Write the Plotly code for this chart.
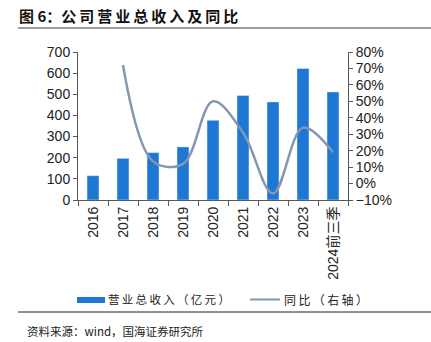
import plotly.graph_objects as go

categories = ["2016", "2017", "2018", "2019", "2020", "2021", "2022", "2023", "2024前三季"]
revenue = [115, 197, 224, 251, 377, 494, 464, 622, 511]
growth = [None, 72, 13.5, 12, 50, 31, -6, 34, 19]

W, H = 431, 342
L, R, T, B = 78, 348, 52, 200

def px(x):
    return (x - L) / (R - L)

def py(y):
    return (B - y) / (B - T)

BAR = "#1f77d4"
LINE = "#8496b0"
AX = "#595959"
FONT = "Liberation Sans, Arial, Noto Sans CJK SC"
CJK = "Noto Sans CJK SC, sans-serif"

fig = go.Figure()
fig.add_trace(go.Bar(x=categories, y=revenue, marker_color=BAR, width=0.4,
                     name="营业总收入（亿元）", showlegend=False))
fig.add_trace(go.Scatter(x=categories, y=growth, yaxis="y2", mode="lines",
                         line=dict(color=LINE, width=2.5, shape="spline", smoothing=1.0),
                         connectgaps=False, name="同比（右轴）", showlegend=False))

fig.update_layout(
    width=W, height=H,
    margin=dict(l=L, r=W - R, t=T, b=H - B, pad=0),
    paper_bgcolor="white", plot_bgcolor="white",
    font=dict(family=FONT, size=13, color="#222"),
    bargap=0.6,
    xaxis=dict(type="category", tickangle=-90, showline=True, linecolor=AX, linewidth=1,
               ticks="outside", ticklen=5, tickcolor=AX, tickson="boundaries",
               showgrid=False, tickfont=dict(family=FONT, size=14, color="#222")),
    yaxis=dict(range=[0, 700], dtick=100, showline=True, linecolor=AX, linewidth=1,
               ticks="outside", ticklen=4, tickcolor=AX, showgrid=False, zeroline=False,
               tickfont=dict(family=FONT, size=14, color="#222")),
    yaxis2=dict(range=[-10, 80], dtick=10, overlaying="y", side="right", showline=True,
                linecolor=AX, linewidth=1, ticks="outside", ticklen=4, tickcolor=AX,
                showgrid=False, zeroline=False, ticksuffix="%",
                tickfont=dict(family=FONT, size=14, color="#222")),
)

shapes = []
shapes.append(dict(type="line", xref="paper", yref="paper", x0=px(18), x1=px(431),
                   y0=py(28), y1=py(28), line=dict(color="#7f7f7f", width=1.5)))
shapes.append(dict(type="line", xref="paper", yref="paper", x0=px(18), x1=px(431),
                   y0=py(312), y1=py(312), line=dict(color="#222", width=1)))
shapes.append(dict(type="rect", xref="paper", yref="paper", x0=px(77), x1=px(105),
                   y0=py(303), y1=py(297), fillcolor=BAR, line=dict(width=0)))
shapes.append(dict(type="line", xref="paper", yref="paper", x0=px(250), x1=px(280),
                   y0=py(299.5), y1=py(299.5), line=dict(color=LINE, width=2)))
fig.update_layout(shapes=shapes)

ts = "\u2009"
title = "图 6：" + ts.join("公司营业总收入及同比")
ann = [
    dict(text="<b>" + title + "</b>", x=px(17), y=py(15), xref="paper", yref="paper",
         xanchor="left", yanchor="middle", showarrow=False,
         font=dict(family=CJK, size=15, color="#111")),
    dict(text=ts.join("营业总收入（亿元）"), x=px(106), y=py(299), xref="paper", yref="paper",
         xanchor="left", yanchor="middle", showarrow=False,
         font=dict(family=CJK, size=11.5, color="#222")),
    dict(text=ts.join("同比（右轴）"), x=px(282), y=py(299), xref="paper", yref="paper",
         xanchor="left", yanchor="middle", showarrow=False,
         font=dict(family=CJK, size=12, color="#222")),
    dict(text="资料来源：wind，国海证券研究所", x=px(25), y=py(341), xref="paper", yref="paper",
         xanchor="left", yanchor="bottom", showarrow=False,
         font=dict(family=CJK, size=11.5, color="#222")),
]
fig.update_layout(annotations=ann)

fig.write_html("out.html")
